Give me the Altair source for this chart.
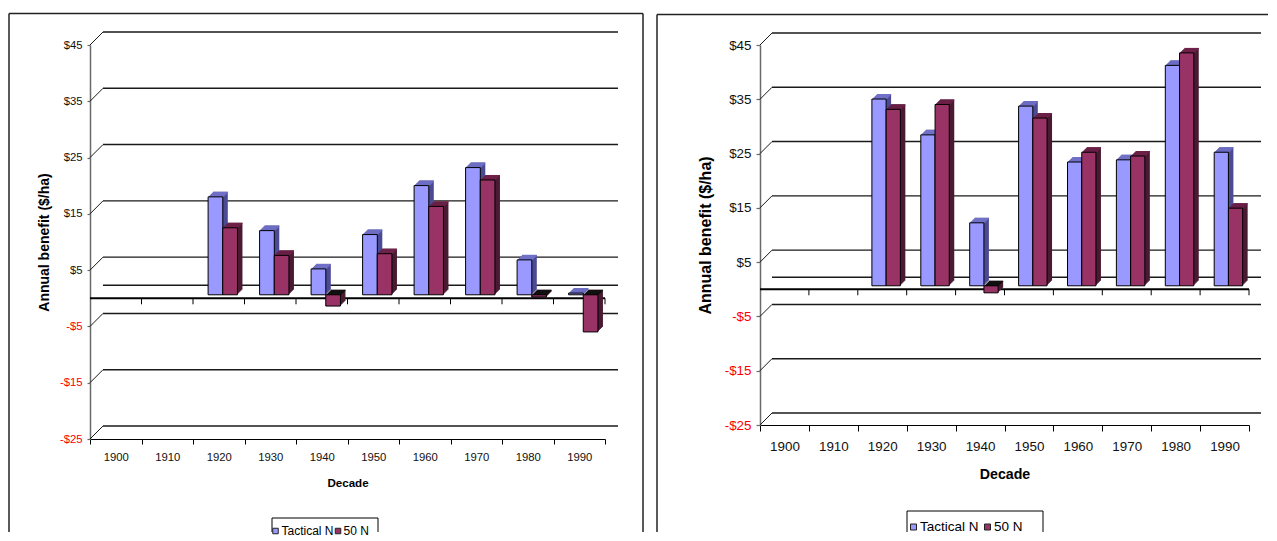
import altair as alt
import pandas as pd

# ---------------- data ----------------
decades = ["1900", "1910", "1920", "1930", "1940", "1950", "1960", "1970", "1980", "1990"]
series_names = ["Tactical N", "50 N"]
left_tactical = [None, None, 17.4, 11.4, 4.6, 10.7, 19.4, 22.6, 6.2, 0.3]
left_50n = [None, None, 11.9, 7.0, -2.0, 7.3, 15.7, 20.4, -0.4, -6.6]
right_tactical = [None, None, 34.4, 27.8, 11.6, 33.1, 22.8, 23.2, 40.6, 24.6]
right_50n = [None, None, 32.5, 33.4, -1.3, 30.9, 24.6, 23.9, 42.9, 14.3]
tick_values = [-25, -15, -5, 5, 15, 25, 35, 45]
grid_values = [-25, -15, -5, 0, 5, 15, 25, 35, 45]
y_domain = [-25, 45]
x_title = "Decade"
y_title = "Annual benefit ($/ha)"

# ---------------- style ----------------
front_colors = ["#9999FF", "#993366"]
side_colors = ["#4B4B94", "#4A1A33"]
top_colors = ["#7070C8", "#6E2149"]
neg_top = "#111111"
line_col = "#1a1a1a"
axis_gray = "#6a6a6a"
one = pd.DataFrame({"a": [0]})
FONT = "Liberation Sans"

LEFT = dict(W=515, H=394, depth=13, bd=5, bw=14.7, offs=(-3.3, 11.35), ys=-3.5,
            lab_size=11.3, ytitle_size=14, ytitle_x=-46, xtitle_size=11.6, xtitle_y=44,
            ytick=3, ylabpad=5, xtick=5, xlabpad=7,
            border=dict(left=-81, top=-31.5, right=553, bottom=487),
            leg=dict(x1=182, x2=288, top=473, sw_x=(185.5, 248), tx_x=(191.5, 253.5), y=486, sw=5.5, size=12))
RIGHT = dict(W=489, H=380, depth=12, bd=5, bw=14.2, offs=(-3.25, 11.0), ys=-3.5,
             lab_size=13.4, ytitle_size=16, ytitle_x=-55, xtitle_size=14.2, xtitle_y=49,
             ytick=4, ylabpad=5, xtick=6, xlabpad=8,
             border=dict(left=-103, top=-30.5, right=None, top_end=508, bottom=487),
             leg=dict(x1=147, x2=283, top=466, sw_x=(153.5, 227.5), tx_x=(160, 234), y=482, sw=6,
                      size=13.5))


def build_panel(tactical, fifty, c):
    W, H, d = c["W"], c["H"], c["depth"]
    rows = []
    for name, vals in zip(series_names, [tactical, fifty]):
        for dec, v in zip(decades, vals):
            if v is not None:
                rows.append({"decade": dec, "series": name, "v": v})
    bars = pd.DataFrame(rows)

    xscale = alt.Scale(domain=decades, paddingInner=0, paddingOuter=0)
    yscale = alt.Scale(domain=y_domain, nice=False, zero=False)
    xaxis = alt.Axis(orient="bottom", title=x_title, domain=True, domainColor="black", domainWidth=1,
                     ticks=True, tickBand="extent", tickSize=c["xtick"], tickColor="black",
                     labelAngle=0, labelFont=FONT, labelFontSize=c["lab_size"],
                     labelColor="#111111", labelPadding=c["xlabpad"], grid=False,
                     titleFont=FONT, titleFontSize=c["xtitle_size"],
                     titleFontWeight="bold", titleColor="black",
                     titleX=W / 2, titleY=c["xtitle_y"], titleAlign="center",
                     titleBaseline="middle")
    yaxis = alt.Axis(values=tick_values, title=y_title,
                     labelExpr="(datum.value < 0 ? '-' : '') + '$' + abs(datum.value)",
                     labelColor=alt.ExprRef(expr="datum.value < 0 ? '#FF0000' : '#111111'"),
                     labelFont=FONT, labelFontSize=c["lab_size"],
                     labelPadding=c["ylabpad"], labelBaseline="middle",
                     domain=True, domainColor=axis_gray, domainWidth=1.5,
                     ticks=True, tickSize=c["ytick"], tickColor=axis_gray, tickWidth=1.2, grid=False,
                     titleFont=FONT, titleFontSize=c["ytitle_size"],
                     titleFontWeight="bold", titleColor="black",
                     titleX=c["ytitle_x"], titleY=H / 2, titleAngle=270,
                     titleAlign="center", titleBaseline="middle")

    def X(**kw):
        return alt.X("decade:N", scale=xscale, axis=xaxis, **kw)

    def Y(field="v"):
        return alt.Y(f"{field}:Q", scale=yscale, axis=yaxis)

    def Y0():
        return alt.Y(datum=0, scale=yscale, axis=yaxis)

    layers = []
    # back wall gridlines
    grid = pd.DataFrame({"v": grid_values})
    layers.append(alt.Chart(grid).mark_rule(color=line_col, strokeWidth=1.4, yOffset=-d)
                  .encode(x=alt.value(d), x2=alt.value(W + d), y=Y()))
    # slanted connectors from the front axis to the back wall
    ticks = pd.DataFrame({"v": tick_values})
    layers.append(alt.Chart(ticks).mark_rule(color=line_col, strokeWidth=1, y2Offset=-d)
                  .encode(x=alt.value(0), x2=alt.value(d), y=Y(), y2=alt.Y2("v:Q")))
    # front zero axis line + its ticks
    layers.append(alt.Chart(one).mark_rule(color="black", strokeWidth=2)
                  .encode(x=alt.value(0), x2=alt.value(W), y=Y0()))
    dec_df = pd.DataFrame({"decade": decades})
    layers.append(alt.Chart(dec_df).mark_rule(color="black", strokeWidth=1, y2Offset=6)
                  .encode(x=X(bandPosition=1), y=Y0(), y2=alt.datum(0)))

    ys, bd, bw = c["ys"], c["bd"], c["bw"]
    for i, name in enumerate(series_names):
        base = alt.Chart(bars).transform_filter(alt.datum.series == name)
        off = c["offs"][i]
        # side extrusion
        for k in range(1, bd + 1):
            layers.append(base.mark_bar(width=bw, xOffset=off + k, x2Offset=off + k,
                                        yOffset=ys - k, y2Offset=ys - k,
                                        color=side_colors[i], strokeWidth=0)
                          .encode(x=X(), y=Y(), y2=alt.datum(0)))
        # top face strips
        for k in range(1, bd + 1):
            layers.append(base.transform_calculate(top="max(datum.v, 0)")
                          .mark_bar(width=bw, xOffset=off + k, x2Offset=off + k,
                                    yOffset=ys - k, y2Offset=ys - k + 1.3, strokeWidth=0)
                          .encode(x=X(), y=Y("top"), y2=alt.Y2("top:Q"),
                                  color=alt.condition("datum.v < 0", alt.value(neg_top),
                                                      alt.value(top_colors[i]))))
        # front face
        layers.append(base.mark_bar(width=bw, xOffset=off, x2Offset=off, yOffset=ys, y2Offset=ys,
                                    color=front_colors[i], stroke="black", strokeWidth=1)
                      .encode(x=X(), y=Y(), y2=alt.datum(0)))

    # panel border (left, top, right)
    b = c["border"]
    bcol = "#222222"
    layers.append(alt.Chart(one).mark_rule(color=bcol, strokeWidth=1.5)
                  .encode(x=alt.value(b["left"]), y=alt.value(b["top"]), y2=alt.value(b["bottom"])))
    top_end = b["right"] if b.get("right") is not None else b["top_end"]
    layers.append(alt.Chart(one).mark_rule(color=bcol, strokeWidth=1.5)
                  .encode(x=alt.value(b["left"]), x2=alt.value(top_end), y=alt.value(b["top"])))
    if b.get("right") is not None:
        layers.append(alt.Chart(one).mark_rule(color=bcol, strokeWidth=1.5)
                      .encode(x=alt.value(b["right"]), y=alt.value(b["top"]), y2=alt.value(b["bottom"])))

    # legend
    L = c["leg"]
    layers.append(alt.Chart(one).mark_rule(color="black", strokeWidth=1)
                  .encode(x=alt.value(L["x1"]), x2=alt.value(L["x2"]), y=alt.value(L["top"])))
    for xx in (L["x1"], L["x2"]):
        layers.append(alt.Chart(one).mark_rule(color="black", strokeWidth=1)
                      .encode(x=alt.value(xx), y=alt.value(L["top"]), y2=alt.value(b["bottom"])))
    for i, name in enumerate(series_names):
        df = pd.DataFrame({"series": [name]})
        layers.append(alt.Chart(df).mark_square(size=L["sw"] ** 2, filled=True, color=front_colors[i],
                                                stroke="#222222", strokeWidth=1, opacity=1)
                      .encode(x=alt.value(L["sw_x"][i]), y=alt.value(L["y"])))
        layers.append(alt.Chart(df).mark_text(align="left", baseline="middle", font=FONT,
                                              fontSize=L["size"], color="black")
                      .encode(x=alt.value(L["tx_x"][i]), y=alt.value(L["y"]), text="series:N"))

    return alt.layer(*layers).properties(width=W, height=H)


left = build_panel(left_tactical, left_50n, LEFT)
right = build_panel(right_tactical, right_50n, RIGHT)

chart = (alt.hconcat(left, right, spacing=155)
         .properties(bounds="flush", padding={"left": 0, "top": 4, "right": 0, "bottom": 0},
                     background="white")
         .configure_view(stroke=None))

chart.save("out.html", embed_options={"renderer": "svg", "actions": False})
